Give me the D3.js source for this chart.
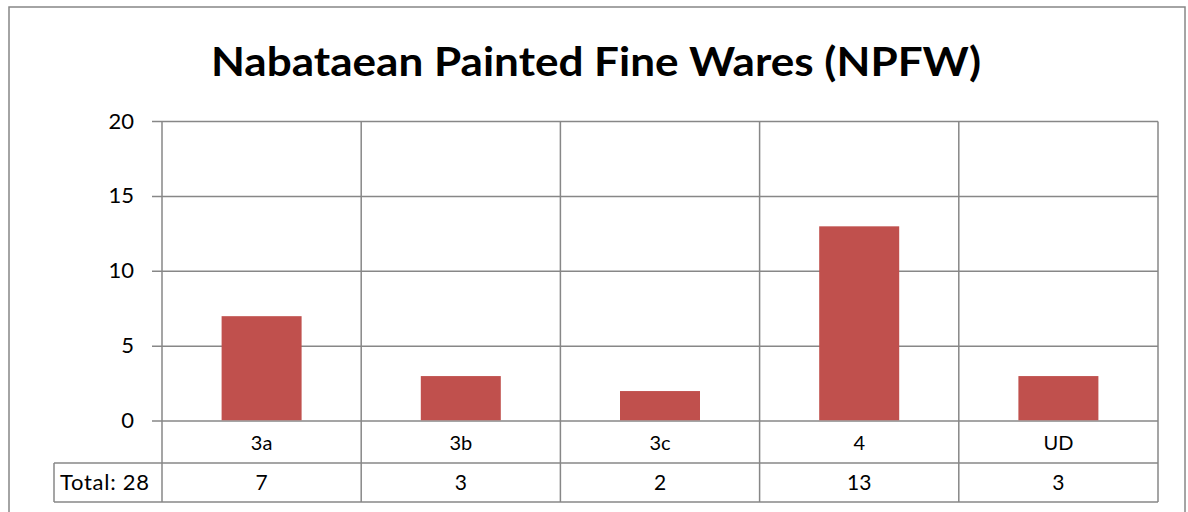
<!DOCTYPE html>
<html><head><meta charset="utf-8">
<script src="https://cdn.jsdelivr.net/npm/d3@7"></script>
<style>body{margin:0;background:#fff}svg{display:block}</style>
</head><body>
<script>
const categories = ["3a","3b","3c","4","UD"];
const values = [7,3,2,13,3];
const yTicks = [0,5,10,15,20];
const title = "Nabataean Painted Fine Wares (NPFW)";
const tableLabel = "Total: 28";

const W=1188,H=512;
const svg=d3.select("body").append("svg").attr("width",W).attr("height",H);
const gray="#878787", font="Lato, 'Open Sans', sans-serif";

svg.append("rect").attr("x",9).attr("y",7).attr("width",1176).attr("height",520)
  .attr("fill","#fff").attr("stroke",gray).attr("stroke-width",1.5);

svg.append("text").attr("x",596).attr("y",76).attr("text-anchor","middle")
  .attr("font-family",font).attr("font-weight","bold").attr("font-size",40)
  .attr("textLength",770).attr("lengthAdjust","spacingAndGlyphs").attr("fill","#000").text(title);

const L=162,R=1158,T=121.5,B=421;
const x=d3.scaleBand().domain(categories).range([L,R]);
const y=d3.scaleLinear().domain([0,20]).range([B,T]);

// gridlines
svg.append("g").selectAll("line").data(yTicks).join("line")
  .attr("x1",L-10).attr("x2",R).attr("y1",d=>y(d)).attr("y2",d=>y(d))
  .attr("stroke",gray).attr("stroke-width",1.5);
// vertical category lines through plot and table
const bounds=categories.map(c=>x(c)).concat([R]);
svg.append("g").selectAll("line").data(bounds).join("line")
  .attr("x1",d=>d).attr("x2",d=>d).attr("y1",T).attr("y2",502)
  .attr("stroke",gray).attr("stroke-width",1.5);
// table horizontal lines
svg.append("line").attr("x1",54).attr("x2",R).attr("y1",463).attr("y2",463).attr("stroke",gray).attr("stroke-width",1.5);
svg.append("line").attr("x1",54).attr("x2",R).attr("y1",502).attr("y2",502).attr("stroke",gray).attr("stroke-width",1.5);
svg.append("line").attr("x1",54).attr("x2",54).attr("y1",463).attr("y2",502).attr("stroke",gray).attr("stroke-width",1.5);

// bars
const bw=80;
svg.append("g").selectAll("rect").data(values).join("rect")
  .attr("x",(d,i)=>x(categories[i])+x.bandwidth()/2-bw/2).attr("width",bw)
  .attr("y",d=>y(d)).attr("height",d=>B-y(d)-0.75).attr("fill","#C0504D");

// y tick labels
svg.append("g").selectAll("text").data(yTicks).join("text")
  .attr("x",134).attr("y",d=>y(d)+7).attr("text-anchor","end")
  .attr("font-family",font).attr("font-size",22).attr("fill","#000").text(d=>d);

// category labels
svg.append("g").selectAll("text").data(categories).join("text")
  .attr("x",d=>x(d)+x.bandwidth()/2).attr("y",449.5).attr("text-anchor","middle")
  .attr("font-family",font).attr("font-size",20).attr("fill","#000").text(d=>d);
// values row
svg.append("g").selectAll("text").data(values).join("text")
  .attr("x",(d,i)=>x(categories[i])+x.bandwidth()/2).attr("y",489.5).attr("text-anchor","middle")
  .attr("font-family",font).attr("font-size",21).attr("fill","#000").text(d=>d);
svg.append("text").attr("x",60).attr("y",489.5).attr("font-family",font).attr("font-size",22)
  .attr("textLength",89).attr("lengthAdjust","spacing").attr("fill","#000").text(tableLabel);
</script>
</body></html>
